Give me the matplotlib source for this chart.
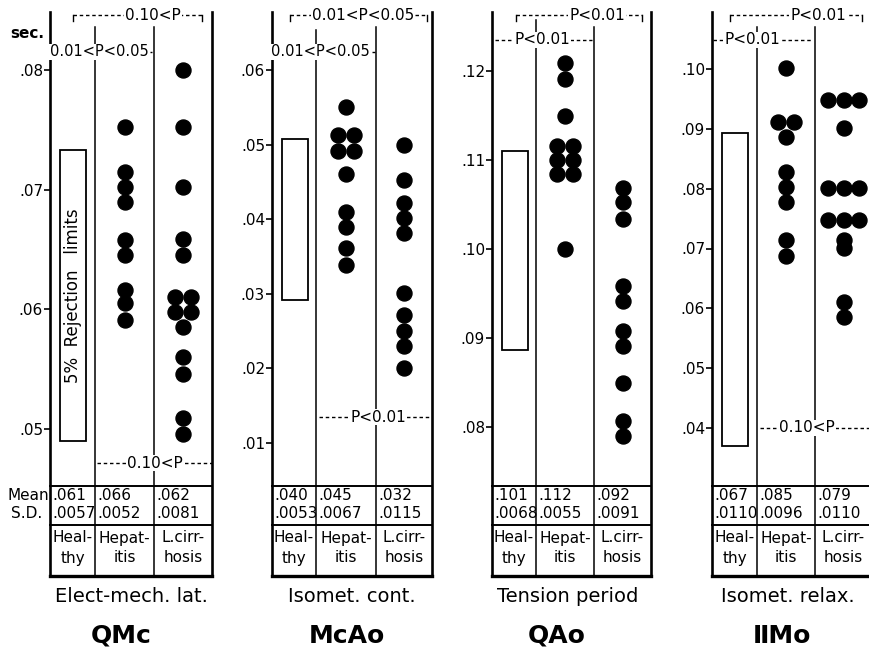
import numpy as np
import matplotlib.pyplot as plt
from matplotlib.patches import Rectangle

# ---- data ----
groups_top = ['Heal-', 'Hepat-', 'L.cirr-']
groups_bot = ['thy', 'itis', 'hosis']
params = ['Elect-mech. lat.', 'Isomet. cont.', 'Tension period', 'Isomet. relax.']
intervals = ['QMc', 'McAo', 'QAo', 'ⅡMo']

means = [[0.061, 0.066, 0.062],
         [0.040, 0.045, 0.032],
         [0.101, 0.112, 0.092],
         [0.067, 0.085, 0.079]]
sds = [[0.0057, 0.0052, 0.0081],
       [0.0053, 0.0067, 0.0115],
       [0.0068, 0.0055, 0.0091],
       [0.0110, 0.0096, 0.0110]]

# 5% rejection limits of the healthy group (lower, upper)
limits = [(0.0490, 0.0733), (0.0292, 0.0508), (0.0887, 0.1110), (0.0370, 0.0893)]

yticks = [[0.05, 0.06, 0.07, 0.08],
          [0.01, 0.02, 0.03, 0.04, 0.05, 0.06],
          [0.08, 0.09, 0.10, 0.11, 0.12],
          [0.04, 0.05, 0.06, 0.07, 0.08, 0.09, 0.10]]

hep_qmc = [0.0752, 0.0715, 0.0702, 0.0690, 0.0658, 0.0645, 0.0616, 0.0605, 0.0591]
cir_qmc = [0.0800, 0.0752, 0.0702, 0.0659, 0.0645, 0.0610, 0.0610, 0.0598, 0.0598,
           0.0585, 0.0560, 0.0546, 0.0509, 0.0496]
hep_mcao = [0.0550, 0.0513, 0.0513, 0.0491, 0.0491, 0.0460, 0.0410, 0.0390, 0.0362, 0.0339]
cir_mcao = [0.0500, 0.0452, 0.0422, 0.0401, 0.0382, 0.0301, 0.0272, 0.0250, 0.0230, 0.0200]
hep_qao = [0.1209, 0.1191, 0.1149, 0.1116, 0.1116, 0.1100, 0.1100, 0.1084, 0.1084, 0.1000]
cir_qao = [0.1069, 0.1053, 0.1034, 0.0958, 0.0942, 0.0908, 0.0891, 0.0849, 0.0807, 0.0790]
hep_iimo = [0.1002, 0.0911, 0.0911, 0.0886, 0.0828, 0.0803, 0.0778, 0.0714, 0.0687]
cir_iimo = [0.0948, 0.0948, 0.0948, 0.0901, 0.0801, 0.0801, 0.0801, 0.0748, 0.0748,
            0.0748, 0.0714, 0.0701, 0.0610, 0.0585]
hepatitis = [hep_qmc, hep_mcao, hep_qao, hep_iimo]
cirrhosis = [cir_qmc, cir_mcao, cir_qao, cir_iimo]

# significance labels: (top bracket, inner bracket, bottom bracket)
sig_top = ['0.10<P', '0.01<P<0.05', 'P<0.01', 'P<0.01']
sig_inner = ['0.01<P<0.05', '0.01<P<0.05', 'P<0.01', 'P<0.01']
sig_bottom = ['0.10<P', 'P<0.01', None, '0.10<P']

# ---- layout (pixels of the 869x655 picture) ----
W, H = 869, 655
TOP, TAB0, TAB1, TAB2 = 12, 486, 525, 576
cols = [(50, 95, 154, 212), (272, 316, 376, 432), (492, 536, 594, 651), (712, 757, 815, 872)]
div_top = [(27, 27), (30, 27), (20, 27), (27, 27)]
calib = [((0.08, 70), (0.05, 429)), ((0.06, 70), (0.01, 443)),
         ((0.12, 71), (0.08, 427)), ((0.10, 69), (0.04, 428))]
top_br = [(73, 202, 153), (290, 427, 363), (516, 642, 597), (730, 862, 818)]
top_y = 15
inner_br = [(50, 152, 99, 52), (272, 375, 320, 52), (495, 592, 542, 40), (713, 812, 752, 40)]
inner_fs = [10.5, 10.5, 11, 11]
bot_br = [(97, 212, 155, 463), (319, 432, 378, 417), None, (760, 869, 807, 428)]
sub_x = [131, 352, 568, 788]
title_x = [121, 347, 557, 782]

plt.rcParams['font.family'] = 'DejaVu Sans'
fig = plt.figure(figsize=(W / 100, H / 100), dpi=100)
fig.patch.set_facecolor('white')


def spread(vals, step=15.5):
    vals = np.asarray(vals)
    off = np.zeros(len(vals))
    for v in np.unique(vals):
        idx = np.where(vals == v)[0]
        off[idx] = (np.arange(len(idx)) - (len(idx) - 1) / 2) * step
    return off


for i in range(4):
    left, d1, d2, right = cols[i]
    (v1, p1), (v2, p2) = calib[i]
    k = (v1 - v2) / (p2 - p1)
    ax = fig.add_axes([left / W, 1 - TAB0 / H, (right - left) / W, (TAB0 - TOP) / H])
    ax.set_xlim(0, right - left)
    ax.set_ylim(v1 - (TAB0 - p1) * k, v1 + (p1 - TOP) * k)
    ax.patch.set_alpha(0)
    for s in ax.spines.values():
        s.set_visible(False)
    ax.set_xticks([])
    ax.set_yticks(yticks[i])
    ax.set_yticklabels([('%.2f' % t).lstrip('0') for t in yticks[i]])
    ax.tick_params(axis='y', direction='out', length=4, width=1.2, pad=1, labelsize=11)

    lo, hi = limits[i]
    ax.add_patch(Rectangle((10, lo), 26, hi - lo, fill=False, lw=1.3, ec='black'))
    if i == 0:
        ax.text(23, (lo + hi) / 2, '5%  Rejection   limits', rotation=90,
                ha='center', va='center', fontsize=12)

    hc = (d1 + d2) / 2 - left
    cc = (d2 + right) / 2 - left
    ax.plot(hc + spread(hepatitis[i]), hepatitis[i], 'o', ms=10.8, color='black', ls='none')
    ax.plot(cc + spread(cirrhosis[i]), cirrhosis[i], 'o', ms=10.8, color='black', ls='none')

# overlay for frame lines, table and annotations
ov = fig.add_axes([0, 0, 1, 1], zorder=5)
ov.set_xlim(0, W)
ov.set_ylim(H, 0)
ov.axis('off')
ov.patch.set_alpha(0)

bb = dict(facecolor='white', edgecolor='none', pad=0.5)
dash = (0, (2.5, 2))

for i in range(4):
    left, d1, d2, right = cols[i]
    ov.plot([left, left], [TOP, TAB2], color='black', lw=1.9)
    ov.plot([right, right], [TOP, TAB2], color='black', lw=1.9)
    ov.plot([d1, d1], [div_top[i][0], TAB2], color='black', lw=1.1)
    ov.plot([d2, d2], [div_top[i][1], TAB2], color='black', lw=1.1)
    ov.plot([left, right], [TAB0, TAB0], color='black', lw=1.4)
    ov.plot([left, right], [TAB1, TAB1], color='black', lw=1.4)
    ov.plot([left, right], [TAB2, TAB2], color='black', lw=2.4)

    edges = [left, d1, d2, right]
    for j in range(3):
        ov.text(edges[j] + 2, 495, ('%.3f' % means[i][j]).lstrip('0'), fontsize=11,
                ha='left', va='center')
        ov.text(edges[j] + 2, 513, ('%.4f' % sds[i][j]).lstrip('0'), fontsize=11,
                ha='left', va='center')
        cx = (edges[j] + edges[j + 1]) / 2
        ov.text(cx, 538, groups_top[j], fontsize=11, ha='center', va='center')
        ov.text(cx, 558, groups_bot[j], fontsize=11, ha='center', va='center')

    ov.text(sub_x[i], 597, params[i], fontsize=14, ha='center', va='center')
    ov.text(title_x[i], 636, intervals[i], fontsize=18, fontweight='bold',
            ha='center', va='center')

    # top bracket
    x1, x2, tx = top_br[i]
    ov.plot([x1, x2], [top_y, top_y], color='black', lw=1, ls=dash)
    ov.plot([x1, x1], [top_y, top_y + 6], color='black', lw=1)
    ov.plot([x2, x2], [top_y, top_y + 6], color='black', lw=1)
    ov.text(tx, top_y, sig_top[i], fontsize=11, ha='center', va='center', bbox=bb)
    # inner bracket
    x1, x2, tx, y = inner_br[i]
    ov.plot([x1, x2], [y, y], color='black', lw=1, ls=dash)
    ov.text(tx, y, sig_inner[i], fontsize=inner_fs[i], ha='center', va='center', bbox=bb)
    # bottom bracket
    if bot_br[i] is not None:
        x1, x2, tx, y = bot_br[i]
        ov.plot([x1, x2], [y, y], color='black', lw=1, ls=dash)
        ov.text(tx, y, sig_bottom[i], fontsize=11, ha='center', va='center', bbox=bb)

ov.text(27, 33, 'sec.', fontsize=11, fontweight='bold', ha='center', va='center')
ov.text(49, 495, 'Mean', fontsize=11, ha='right', va='center')
ov.text(27, 513, 'S.D.', fontsize=11, ha='center', va='center')

fig.savefig('out.png', dpi=100, facecolor='white')
